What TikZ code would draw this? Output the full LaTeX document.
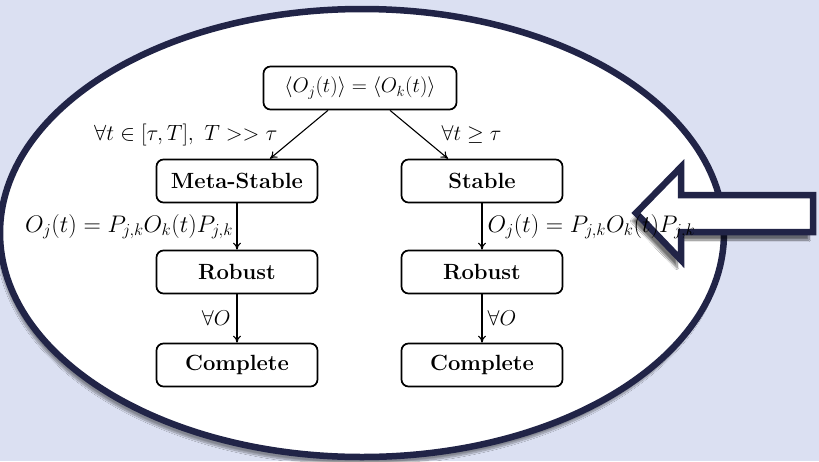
\documentclass[tikz,border=0pt]{standalone}
\usepackage{fix-cm}
\usepackage{amsmath}
\usepackage{fontspec}
\usetikzlibrary{arrows.meta,shadows.blur}
\definecolor{bgc}{HTML}{DBE0F2}
\definecolor{navy}{HTML}{212447}
\tikzset{
  stagebox/.style={draw=black, line width=1.7pt, rounded corners=7pt, fill=white,
    minimum width=161pt, minimum height=43pt, inner sep=0pt,
    font=\fontsize{22}{26}\selectfont\bfseries},
  topbox/.style={stagebox, minimum width=193pt, font=\fontsize{21}{25}\selectfont},
  conn/.style={line width=1.1pt, -{To[length=7pt,width=8pt]}},
  lab/.style={font=\fontsize{22}{26}\selectfont, inner sep=2pt},
  biglab/.style={font=\fontsize{24}{28}\selectfont, inner sep=2pt},
  midlab/.style={font=\fontsize{21.5}{26}\selectfont, inner sep=2pt},
  bigarrow/.style={draw=navy, line width=6.5pt, fill=white, miter limit=10,
    blur shadow={shadow xshift=-4pt, shadow yshift=-8pt, shadow blur steps=12, shadow opacity=55}},
  oval/.style={draw=navy, line width=6.5pt, fill=white,
    blur shadow={shadow xshift=-2pt, shadow yshift=-7pt, shadow blur steps=12, shadow opacity=40}}
}
\begin{document}
\begin{tikzpicture}[x=1pt,y=-1pt]
\useasboundingbox (0,0) rectangle (819,461);
\fill[bgc] (0,0) rectangle (819,461);
% oval
\draw[oval] (362,233) ellipse [x radius=362, y radius=224];
% big arrow
\draw[bigarrow] (813,195) -- (681,195) -- (681,167) -- (636,213) -- (681,260) -- (681,232) -- (813,232) -- cycle;
% nodes
\node[topbox] (top) at (360,88) {$\langle O_j(t)\rangle = \langle O_k(t)\rangle$};
\node[stagebox] (ms) at (237,181) {Meta-Stable};
\node[stagebox] (st) at (482,181) {Stable};
\node[stagebox] (rl) at (237,272) {Robust};
\node[stagebox] (rr) at (482,272) {Robust};
\node[stagebox] (cl) at (237,365) {Complete};
\node[stagebox] (cr) at (482,365) {Complete};
% connectors
\draw[conn] (top.south -| 328,0) -- node[lab, pos=0.5, anchor=east, xshift=-19pt] {$\forall t\in[\tau,T],\ T>>\tau$} (ms.north -| 270,0);
\draw[conn] (top.south -| 390,0) -- node[midlab, pos=0.5, anchor=west, xshift=20pt] {$\forall t\geq\tau$} (st.north -| 448,0);
\draw[conn] (ms) -- node[biglab, midway, anchor=east, inner sep=3.5pt] {$O_j(t) = P_{j,k}O_k(t)P_{j,k}$} (rl);
\draw[conn] (st) -- node[biglab, midway, anchor=west, inner sep=5pt] {$O_j(t) = P_{j,k}O_k(t)P_{j,k}$} (rr);
\draw[conn] (rl) -- node[midlab, midway, anchor=east, inner sep=6pt] {$\forall O$} (cl);
\draw[conn] (rr) -- node[midlab, midway, anchor=west, inner sep=5pt] {$\forall O$} (cr);
\end{tikzpicture}
\end{document}
